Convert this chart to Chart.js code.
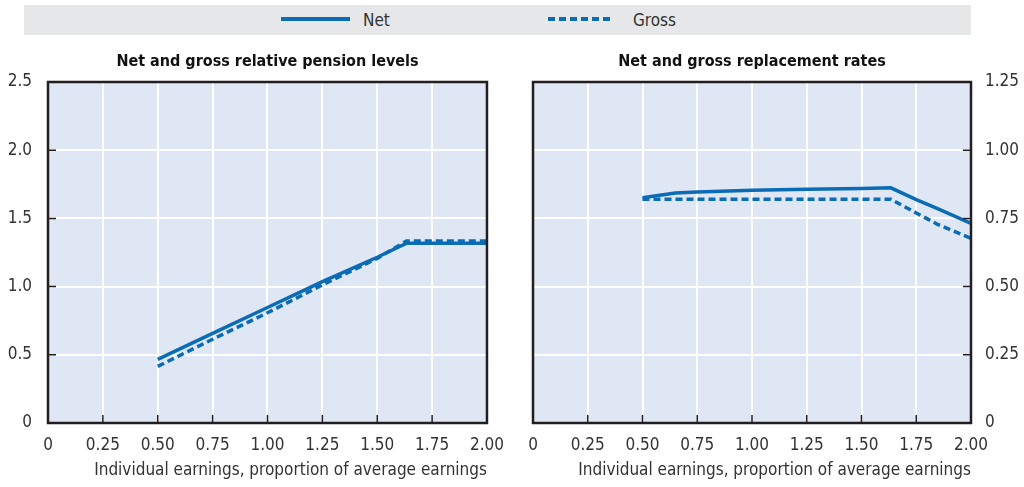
<!DOCTYPE html>
<html>
<head>
<meta charset="utf-8">
<script src="https://cdn.jsdelivr.net/npm/chart.js@4/dist/chart.umd.min.js"></script>
<style>
  body { margin: 0; background: #fff; width: 1024px; height: 487px; overflow: hidden; position: relative;
         font-family: "Liberation Sans Narrow", "DejaVu Sans Condensed", sans-serif; }
  #legend { position: absolute; left: 24px; top: 5px; width: 947px; height: 30px; background: #e6e7e8; }
  #legend svg { position: absolute; left: 0; top: 0; }
  .lbl { position: absolute; top: 5px; font-size: 17px; line-height: 20px; color: #333; }
  .box { position: absolute; top: 40px; height: 447px; }
</style>
</head>
<body>
<div id="legend">
  <svg width="947" height="30">
    <line x1="257" y1="14" x2="326" y2="14" stroke="#0a6cb5" stroke-width="4"/>
    <line x1="524" y1="14" x2="588" y2="14" stroke="#0a6cb5" stroke-width="4" stroke-dasharray="7 4"/>
  </svg>
  <span class="lbl" style="left:339px">Net</span>
  <span class="lbl" style="left:609px">Gross</span>
</div>
<div class="box" style="left:0; width:516px"><canvas id="levels"></canvas></div>
<div class="box" style="left:516px; width:508px"><canvas id="rates"></canvas></div>
<script>
// Net and gross relative pension levels (left panel)
const levelEarnings = [0.5, 0.75, 1.0, 1.25, 1.5, 1.634, 1.75, 2.0];
const netLevel   = [0.467, 0.657, 0.847, 1.036, 1.215, 1.318, 1.318, 1.318];
const grossLevel = [0.415, 0.614, 0.808, 1.012, 1.207, 1.335, 1.335, 1.335];

// Net and gross replacement rates (right panel)
const rateEarnings = [0.5, 0.65, 0.75, 1.0, 1.25, 1.5, 1.634, 1.75, 1.85, 2.0];
const netRate   = [0.826, 0.843, 0.847, 0.853, 0.857, 0.860, 0.862, 0.819, 0.785, 0.732];
const grossRate = [0.820, 0.820, 0.820, 0.820, 0.820, 0.820, 0.820, 0.770, 0.727, 0.677];

const xTicks = [0, 0.25, 0.5, 0.75, 1.0, 1.25, 1.5, 1.75, 2.0];
const titles = ["Net and gross relative pension levels", "Net and gross replacement rates"];
const xTitle = "Individual earnings, proportion of average earnings";

const FONT = '"Liberation Sans Narrow", "DejaVu Sans Condensed", sans-serif';
const BLUE = "#0a6cb5";

function pts(xs, ys) {
    return xs.map((x, i) => ({ x: x, y: ys[i] }));
}

// fond, cadre et petits traits de graduation vers l'intérieur
const framePlugin = {
    id: "frame",
    beforeDraw(chart) {
        const a = chart.chartArea, c = chart.ctx;
        c.save();
        c.fillStyle = "#dfe6f4";
        c.fillRect(a.left, a.top, a.right - a.left, a.bottom - a.top);
        c.restore();
    },
    afterDraw(chart, args, opts) {
        const a = chart.chartArea, c = chart.ctx;
        const xs = chart.scales.x, ys = chart.scales.y;
        c.save();
        c.strokeStyle = "#231f20";
        c.lineWidth = 1.5;
        c.beginPath();
        xs.ticks.forEach(t => {
            const px = xs.getPixelForValue(t.value);
            c.moveTo(px, a.bottom); c.lineTo(px, a.bottom - 8);
        });
        ys.ticks.forEach(t => {
            const py = ys.getPixelForValue(t.value);
            if (opts.right) { c.moveTo(a.right, py); c.lineTo(a.right - 8, py); }
            else { c.moveTo(a.left, py); c.lineTo(a.left + 8, py); }
        });
        c.stroke();
        c.lineWidth = 2.5;
        c.strokeRect(a.left, a.top, a.right - a.left, a.bottom - a.top);
        c.fillStyle = "#111";
        c.font = "bold 16px " + FONT;
        c.textAlign = "center";
        c.textBaseline = "middle";
        c.fillText(opts.title, (a.left + a.right) / 2, a.top - 20);
        c.restore();
    }
};

function makeChart(id, net, gross, xs, yMax, yStep, yDec, right, title) {
    return new Chart(document.getElementById(id), {
        type: "line",
        data: {
            datasets: [
                { label: "Net", data: pts(xs, net), borderColor: BLUE, borderWidth: 3.5, pointRadius: 0, tension: 0 },
                { label: "Gross", data: pts(xs, gross), borderColor: BLUE, borderWidth: 3.5, borderDash: [7, 4], pointRadius: 0, tension: 0 }
            ]
        },
        options: {
            responsive: true,
            maintainAspectRatio: false,
            animation: false,
            layout: { padding: right ? { top: 42, left: 17, right: 0, bottom: 0 } : { top: 42, left: 0, right: 29, bottom: 0 } },
            plugins: {
                legend: { display: false },
                tooltip: { enabled: false },
                frame: { right: right, title: title }
            },
            scales: {
                x: {
                    type: "linear", min: 0, max: 2,
                    afterBuildTicks: s => { s.ticks = xTicks.map(v => ({ value: v })); },
                    afterFit: s => { s.height = 64; },
                    grid: { color: "#fff", lineWidth: 2, drawTicks: false },
                    border: { display: false },
                    ticks: {
                        color: "#333", padding: 12, maxRotation: 0, autoSkip: false,
                        font: { family: FONT, size: 17 },
                        callback: v => v === 0 ? "0" : v.toFixed(2)
                    },
                    title: {
                        display: true, text: xTitle, align: "end", color: "#333",
                        font: { family: FONT, size: 17 }, padding: { top: 0, bottom: 6 }
                    }
                },
                y: {
                    position: right ? "right" : "left",
                    min: 0, max: yMax,
                    afterFit: s => { s.width = right ? 53 : 48; },
                    grid: { color: "#fff", lineWidth: 2, drawTicks: false },
                    border: { display: false },
                    ticks: {
                        stepSize: yStep, color: "#333", padding: right ? 14 : 16,
                        font: { family: FONT, size: 17 },
                        callback: v => v === 0 ? "0" : v.toFixed(yDec)
                    }
                }
            }
        },
        plugins: [framePlugin]
    });
}

makeChart("levels", netLevel, grossLevel, levelEarnings, 2.5, 0.5, 1, false, titles[0]);
makeChart("rates", netRate, grossRate, rateEarnings, 1.25, 0.25, 2, true, titles[1]);
</script>
</body>
</html>
